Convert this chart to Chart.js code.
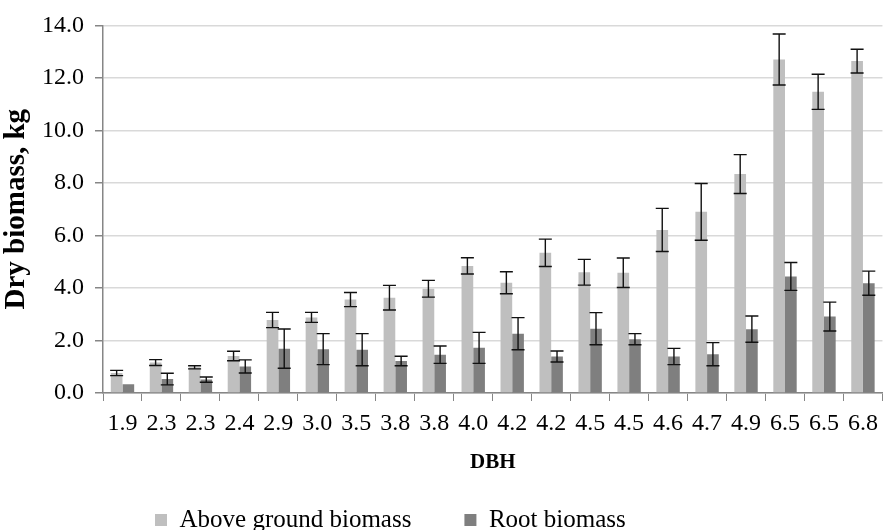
<!DOCTYPE html>
<html>
<head>
<meta charset="utf-8">
<script src="https://cdn.jsdelivr.net/npm/chart.js@4.4.1/dist/chart.umd.min.js"></script>
<style>
  body { margin: 0; background: #ffffff; }
  canvas { display: block; }
</style>
</head>
<body>
<canvas id="myChart" width="886" height="530"></canvas>
<script>
// DBH classes (x axis)
const dbhLabels = ['1.9', '2.3', '2.3', '2.4', '2.9', '3.0', '3.5', '3.8', '3.8', '4.0',
                   '4.2', '4.2', '4.5', '4.5', '4.6', '4.7', '4.9', '6.5', '6.5', '6.8'];

// dry biomass, kg
const aboveGround = [0.76, 1.16, 0.98, 1.41, 2.78, 2.88, 3.56, 3.63, 3.97, 4.84,
                     4.20, 5.34, 4.60, 4.58, 6.21, 6.90, 8.34, 12.70, 11.47, 12.64];
const aboveGroundErr = [0.10, 0.11, 0.06, 0.18, 0.29, 0.19, 0.27, 0.47, 0.32, 0.31,
                        0.42, 0.52, 0.49, 0.56, 0.82, 1.08, 0.74, 0.97, 0.67, 0.45];
const rootBiomass = [0.33, 0.53, 0.51, 1.01, 1.69, 1.67, 1.65, 1.22, 1.46, 1.72,
                     2.26, 1.39, 2.45, 2.05, 1.39, 1.48, 2.43, 4.44, 2.91, 4.18];
const rootErr = [0.00, 0.22, 0.10, 0.25, 0.75, 0.59, 0.61, 0.18, 0.33, 0.59,
                 0.61, 0.21, 0.61, 0.21, 0.31, 0.44, 0.50, 0.53, 0.55, 0.46];

const yTicks = [0, 2, 4, 6, 8, 10, 12, 14];

const serif = "'Liberation Serif', 'Times New Roman', serif";
const axisGray = '#868686';
const legendGap = 53;

// draws the +/- error bars on top of each bar
const errorBars = {
    id: 'errorBars',
    afterDatasetsDraw(chart) {
        const ctx = chart.ctx;
        const yScale = chart.scales.y;
        chart.data.datasets.forEach((ds, i) => {
            const meta = chart.getDatasetMeta(i);
            meta.data.forEach((bar, j) => {
                const err = ds.errors[j];
                if (!err) return;
                const v = ds.data[j];
                const top = yScale.getPixelForValue(v + err);
                const bot = yScale.getPixelForValue(v - err);
                ctx.save();
                ctx.strokeStyle = '#111111';
                ctx.lineWidth = 1.4;
                ctx.beginPath();
                ctx.moveTo(bar.x, top);
                ctx.lineTo(bar.x, bot);
                ctx.moveTo(bar.x - 6.5, top);
                ctx.lineTo(bar.x + 6.5, top);
                ctx.moveTo(bar.x - 6.5, bot);
                ctx.lineTo(bar.x + 6.5, bot);
                ctx.stroke();
                ctx.restore();
            });
        });
    }
};

// put the legend where the reference has it (left of centre, low down)
const placeLegend = {
    id: 'placeLegend',
    afterLayout(chart) {
        const lg = chart.legend;
        lg.left = 155 - legendGap;
        lg.right = 886;
        lg.top = 507.5 - legendGap;
        lg.bottom = 530;
    }
};

const ctx = document.getElementById('myChart');

new Chart(ctx, {
    type: 'bar',
    data: {
        labels: dbhLabels,
        datasets: [{
            label: 'Above ground biomass',
            data: aboveGround,
            errors: aboveGroundErr,
            backgroundColor: '#bfbfbf',
            categoryPercentage: 0.6,
            barPercentage: 1.0
        }, {
            label: 'Root biomass',
            data: rootBiomass,
            errors: rootErr,
            backgroundColor: '#7f7f7f',
            categoryPercentage: 0.6,
            barPercentage: 1.0
        }]
    },
    options: {
        responsive: false,
        animation: false,
        devicePixelRatio: 1,
        layout: {
            padding: { top: 6.5, right: 2, left: 0, bottom: 0 }
        },
        scales: {
            x: {
                grid: {
                    offset: true,
                    drawOnChartArea: false,
                    tickLength: 8,
                    tickColor: axisGray
                },
                border: { color: axisGray, width: 1.5 },
                ticks: {
                    color: '#000000',
                    font: { family: serif, size: 24 },
                    maxRotation: 0,
                    autoSkip: false,
                    padding: 8
                },
                title: {
                    display: true,
                    text: 'DBH',
                    color: '#000000',
                    font: { family: serif, size: 21, weight: 'bold' },
                    padding: { top: 4, bottom: 27 }
                }
            },
            y: {
                min: 0,
                max: 14,
                afterBuildTicks(axis) {
                    axis.ticks = yTicks.map(v => ({ value: v }));
                },
                grid: {
                    color: '#d9d9d9',
                    lineWidth: 1.5,
                    tickLength: 8,
                    tickColor: axisGray
                },
                border: { color: axisGray, width: 1.5 },
                ticks: {
                    color: '#000000',
                    font: { family: serif, size: 24 },
                    padding: 11,
                    callback: v => Number(v).toFixed(1)
                },
                title: {
                    display: true,
                    text: 'Dry biomass, kg',
                    color: '#000000',
                    font: { family: serif, size: 29, weight: 'bold', lineHeight: 1 },
                    padding: { top: 2, bottom: 0 }
                }
            }
        },
        plugins: {
            legend: {
                position: 'bottom',
                align: 'start',
                maxHeight: 28,
                labels: {
                    color: '#000000',
                    font: { family: serif, size: 25 },
                    boxWidth: 12,
                    boxHeight: 12,
                    padding: legendGap
                }
            },
            tooltip: { enabled: false }
        }
    },
    plugins: [errorBars, placeLegend]
});
</script>
</body>
</html>
